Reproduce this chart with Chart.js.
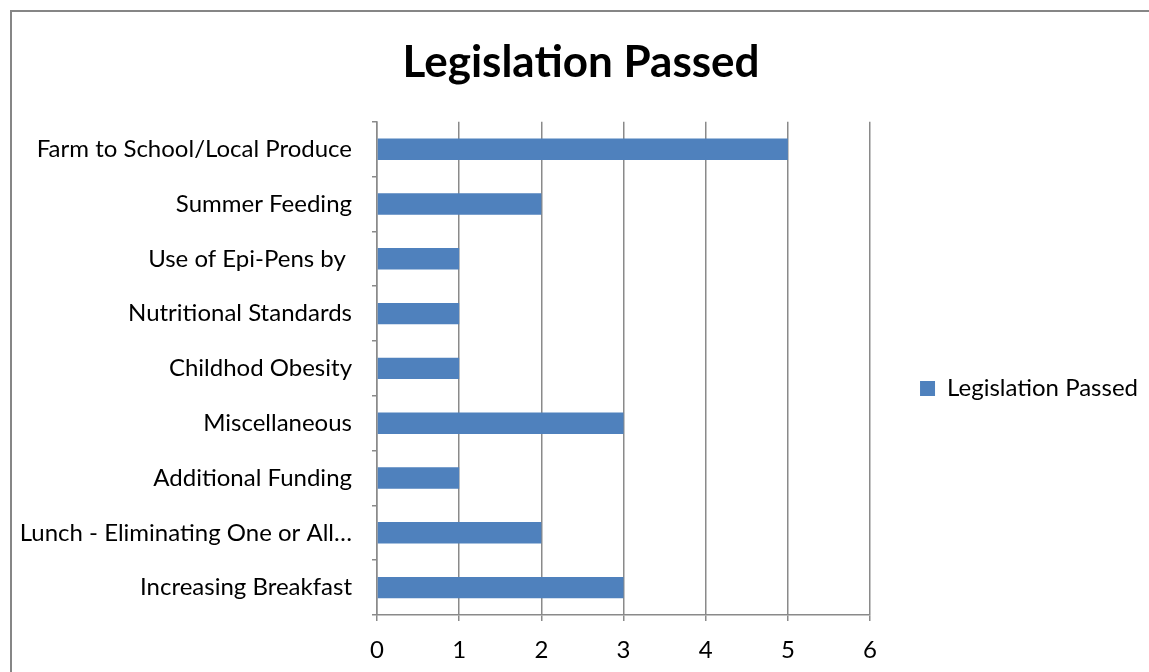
<!DOCTYPE html>
<html>
<head>
<meta charset="utf-8">
<script src="https://cdn.jsdelivr.net/npm/chart.js@4"></script>
<style>
  html, body { margin: 0; padding: 0; background: #fff; overflow: hidden; }
  #wrap { position: relative; width: 1149px; height: 672px; }
  #frame {
    position: absolute; left: 10px; top: 10px; width: 1200px; height: 700px;
    border-left: 2px solid #868686; border-top: 2px solid #868686;
    pointer-events: none;
  }
</style>
</head>
<body>
<div id="wrap">
  <canvas id="chart" width="1149" height="672"></canvas>
  <div id="frame"></div>
</div>
<script>
const categories = [
  "Farm to School/Local Produce",
  "Summer Feeding",
  "Use of Epi-Pens by ",
  "Nutritional Standards",
  "Childhod Obesity",
  "Miscellaneous",
  "Additional Funding",
  "Lunch - Eliminating One or All…",
  "Increasing Breakfast"
];
const passed = [5, 2, 1, 1, 1, 3, 1, 2, 3];
const xTicks = [0, 1, 2, 3, 4, 5, 6];

Chart.defaults.font.family = "Lato";
Chart.defaults.color = "#000";

const gridGray = "#8a8a8a";

const ctx = document.getElementById("chart").getContext("2d");
new Chart(ctx, {
  type: "bar",
  data: {
    labels: categories,
    datasets: [{
      label: "Legislation Passed",
      data: passed,
      backgroundColor: "#4F81BD",
      borderWidth: 0,
      barPercentage: 0.39,
      categoryPercentage: 1
    }]
  },
  options: {
    indexAxis: "y",
    responsive: false,
    animation: false,
    layout: { padding: { left: 14, right: 1, top: 0, bottom: 0 } },
    plugins: {
      title: {
        display: true,
        text: "Legislation Passed",
        font: { size: 44, weight: "bold" },
        color: "#000",
        padding: { top: 36, bottom: 33 }
      },
      legend: {
        position: "right",
        fullSize: false,
        // empty title only pushes the single item down a bit
        title: { display: true, text: " ", font: { size: 10 }, padding: { top: 28, bottom: 0 } },
        labels: {
          boxWidth: 15,
          boxHeight: 15,
          padding: 50,
          font: { size: 24 },
          color: "#000"
        }
      },
      tooltip: { enabled: false }
    },
    scales: {
      x: {
        min: 0,
        max: 6,
        afterBuildTicks: (s) => { s.ticks = xTicks.map(v => ({ value: v })); },
        afterFit: (s) => { s.height = 57; },
        grid: { color: gridGray, lineWidth: 1.5, tickLength: 6 },
        border: { color: gridGray, width: 1.5 },
        ticks: { font: { size: 24 }, padding: 15, color: "#000" }
      },
      y: {
        afterFit: (s) => { s.width = 363; },
        grid: {
          offset: true,
          drawOnChartArea: false,
          tickLength: 5,
          color: gridGray,
          lineWidth: 1.5
        },
        border: { color: gridGray, width: 1.5 },
        ticks: { font: { size: 24 }, padding: 20, color: "#000", autoSkip: false }
      }
    }
  }
});
</script>
</body>
</html>
